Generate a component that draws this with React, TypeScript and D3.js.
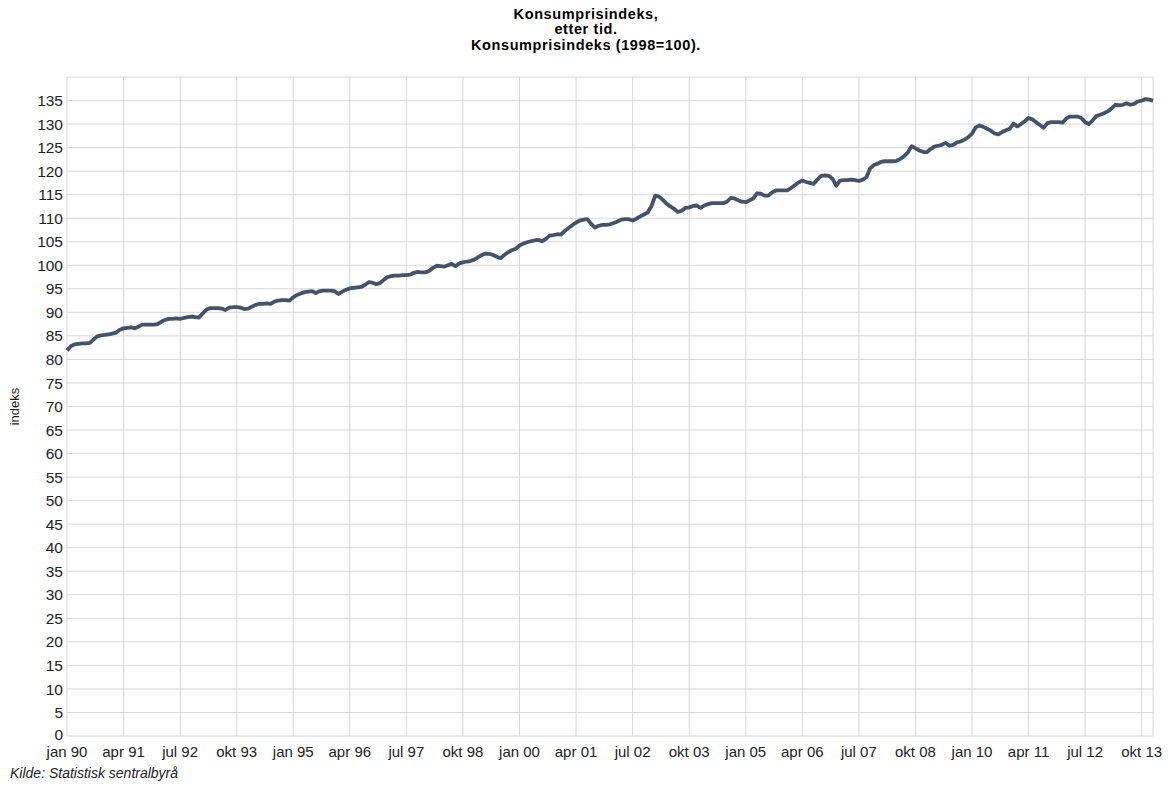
import React from "react";
import * as d3 from "d3";

// KPI (1998=100), monthly
const y1990 = [81.9, 82.8, 83.2, 83.3, 83.4, 83.4, 83.5, 84.2, 84.9, 85.1, 85.2, 85.3];
const y1991 = [85.5, 85.7, 86.3, 86.6, 86.7, 86.8, 86.6, 87.0, 87.4, 87.4, 87.4, 87.4];
const y1992 = [87.5, 88.0, 88.4, 88.6, 88.6, 88.7, 88.6, 88.8, 89.0, 89.1, 89.0, 88.9];
const y1993 = [89.8, 90.6, 90.9, 90.9, 90.9, 90.8, 90.5, 91.0, 91.1, 91.1, 91.0, 90.7];
const y1994 = [90.8, 91.2, 91.6, 91.8, 91.8, 91.9, 91.8, 92.3, 92.5, 92.6, 92.6, 92.5];
const y1995 = [93.2, 93.7, 94.0, 94.3, 94.4, 94.5, 94.1, 94.5, 94.6, 94.6, 94.6, 94.5];
const y1996 = [93.9, 94.4, 94.8, 95.1, 95.2, 95.3, 95.4, 95.8, 96.4, 96.3, 96.0, 96.2];
const y1997 = [96.9, 97.5, 97.7, 97.8, 97.8, 97.9, 97.9, 98.0, 98.4, 98.6, 98.5, 98.5];
const y1998 = [98.8, 99.4, 99.9, 99.8, 99.7, 100.0, 100.3, 99.8, 100.4, 100.6, 100.8, 100.9];
const y1999 = [101.2, 101.7, 102.2, 102.5, 102.4, 102.2, 101.8, 101.5, 102.2, 102.8, 103.2, 103.5];
const y2000 = [104.2, 104.6, 104.9, 105.1, 105.3, 105.4, 105.1, 105.6, 106.3, 106.4, 106.6, 106.5];
const y2001 = [107.3, 107.9, 108.5, 109.1, 109.5, 109.7, 109.8, 108.8, 108.0, 108.4, 108.6, 108.6];
const y2002 = [108.7, 109.0, 109.3, 109.7, 109.8, 109.8, 109.5, 109.9, 110.4, 110.8, 111.2, 112.6];
const y2003 = [114.8, 114.6, 113.9, 113.1, 112.5, 112.0, 111.3, 111.6, 112.2, 112.3, 112.6, 112.7];
const y2004 = [112.2, 112.7, 113.0, 113.2, 113.2, 113.2, 113.2, 113.5, 114.3, 114.2, 113.8, 113.5];
const y2005 = [113.4, 113.8, 114.2, 115.3, 115.2, 114.8, 114.8, 115.5, 115.9, 115.9, 115.9, 115.9];
const y2006 = [116.4, 117.0, 117.6, 118.0, 117.7, 117.5, 117.3, 118.2, 119.0, 119.1, 119.0, 118.4];
const y2007 = [116.9, 118.0, 118.1, 118.1, 118.2, 118.1, 117.9, 118.2, 118.7, 120.6, 121.3, 121.6];
const y2008 = [122.0, 122.1, 122.1, 122.1, 122.2, 122.6, 123.2, 124.0, 125.3, 124.9, 124.4, 124.1];
const y2009 = [124.0, 124.7, 125.2, 125.4, 125.6, 126.0, 125.4, 125.6, 126.1, 126.3, 126.7, 127.2];
const y2010 = [128.0, 129.3, 129.7, 129.4, 129.0, 128.6, 128.0, 127.8, 128.3, 128.7, 129.0, 130.1];
const y2011 = [129.5, 130.0, 130.6, 131.3, 131.0, 130.4, 129.8, 129.2, 130.2, 130.4, 130.4, 130.4];
const y2012 = [130.3, 131.2, 131.6, 131.6, 131.6, 131.3, 130.4, 130.0, 130.8, 131.7, 132.0, 132.3];
const y2013 = [132.7, 133.3, 134.1, 134.0, 134.1, 134.4, 134.1, 134.3, 134.8, 135.0, 135.3, 135.2];
const y2014 = [135.0];

const values = [
  ...y1990, ...y1991, ...y1992, ...y1993, ...y1994, ...y1995, ...y1996, ...y1997,
  ...y1998, ...y1999, ...y2000, ...y2001, ...y2002, ...y2003, ...y2004, ...y2005,
  ...y2006, ...y2007, ...y2008, ...y2009, ...y2010, ...y2011, ...y2012, ...y2013, ...y2014,
];

// a label every 15 months, starting jan 90
const xLabels = [
  "jan 90", "apr 91", "jul 92", "okt 93", "jan 95", "apr 96", "jul 97", "okt 98",
  "jan 00", "apr 01", "jul 02", "okt 03", "jan 05", "apr 06", "jul 07", "okt 08",
  "jan 10", "apr 11", "jul 12", "okt 13",
];
const labelStep = 15;
const yTicks = d3.range(0, 136, 5);

const W = 1171;
const H = 787;
const left = 67;
const right = 1153;
const top = 77;
const bottom = 736;
const font = "'Liberation Sans', Arial, sans-serif";

export default function App() {
  const x = d3.scaleLinear().domain([0, values.length - 1]).range([left, right]);
  const y = d3.scaleLinear().domain([0, 140]).range([bottom, top]);

  const line = d3
    .line<number>()
    .x((_, i) => x(i))
    .y((d) => y(d));

  const grid = "#d8d8d8";

  return (
    <svg
      width={W}
      height={H}
      style={{ position: "absolute", left: 0, top: 0, background: "#fff" }}
      fontFamily={font}
    >
      <g fontWeight="bold" fontSize={14.5} textAnchor="middle" fill="#000" letterSpacing={0.6}>
        <text x={586} y={19}>Konsumprisindeks,</text>
        <text x={586} y={34}>etter tid.</text>
        <text x={586} y={50}>Konsumprisindeks (1998=100).</text>
      </g>

      {/* horizontal grid + y labels */}
      {yTicks.map((t) => (
        <g key={t}>
          <line x1={left} x2={right} y1={y(t)} y2={y(t)} stroke={grid} />
          <text
            x={63}
            y={t === 0 ? y(t) - 2 : y(t)}
            dy="0.36em"
            textAnchor="end"
            fontSize={15.5}
            fill="#222"
          >
            {t}
          </text>
        </g>
      ))}
      <line x1={left} x2={right} y1={top} y2={top} stroke={grid} />

      {/* vertical grid + x labels */}
      {xLabels.map((lab, i) => (
        <g key={lab}>
          <line x1={x(i * labelStep)} x2={x(i * labelStep)} y1={top} y2={bottom} stroke={grid} />
          <text x={x(i * labelStep)} y={757} textAnchor="middle" fontSize={15} fill="#222">
            {lab}
          </text>
        </g>
      ))}
      <line x1={right} x2={right} y1={top} y2={bottom} stroke={grid} />

      <path d={line(values) ?? ""} fill="none" stroke="#44536a" strokeWidth={3.8} strokeLinejoin="round" />

      <text
        transform={`translate(19,${(top + bottom) / 2}) rotate(-90)`}
        textAnchor="middle"
        fontSize={13}
        fill="#222"
      >
        indeks
      </text>
      <text x={10} y={778} fontStyle="italic" fontSize={14} fill="#222">
        Kilde: Statistisk sentralbyrå
      </text>
    </svg>
  );
}
